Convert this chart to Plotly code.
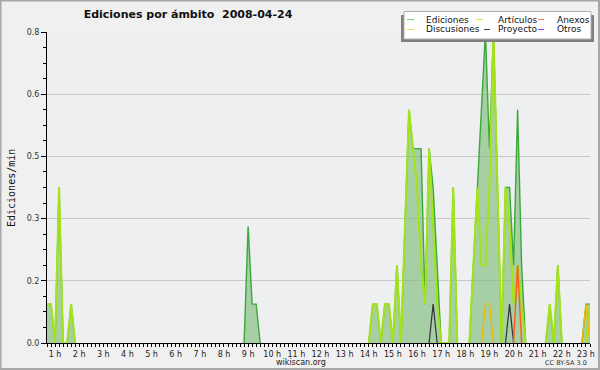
import plotly.graph_objects as go

DAY = "2008-04-24"

# ---- data (edits per minute, 10-minute bins; None separates groups) ----
ediciones_t = ["00:40", "00:50", "01:00", "01:10", "01:20", "01:30", "01:40", "01:50", None,
               "08:50", "09:00", "09:10", "09:20", "09:30", None,
               "14:00", "14:10", "14:20", "14:30", "14:40", "14:50", "15:00", "15:10", "15:20",
               "15:30", "15:40", "15:50", "16:00", "16:10", "16:20", "16:30", "16:40", "16:50",
               "17:00", "17:20", "17:30", "17:40", None,
               "18:10", "18:20", "18:30", "18:40", "18:50", "19:00", "19:10", "19:20", "19:30",
               "19:40", "19:50", "20:00", "20:10", "20:20", "20:30", None,
               "21:20", "21:30", "21:40", "21:50", "22:00", None,
               "22:50", "23:00", "23:10"]
ediciones_v = [0.1, 0.1, 0, 0.4, 0, 0, 0.1, 0, None,
               0, 0.3, 0.1, 0.1, 0, None,
               0, 0.1, 0.1, 0, 0.1, 0.1, 0, 0.2, 0,
               0.3, 0.6, 0.5, 0.5, 0.5, 0.1, 0.5, 0.4, 0.2,
               0, 0, 0.4, 0, None,
               0, 0.2, 0.4, 0.6, 0.8, 0.5, 0.8, 0.4, 0,
               0.4, 0.4, 0.2, 0.6, 0.2, 0, None,
               0, 0.1, 0, 0.2, 0, None,
               0, 0.1, 0.1]

articulos_t = ["00:40", "00:50", "01:00", "01:10", "01:20", "01:30", "01:40", "01:50", None,
               "14:00", "14:10", "14:20", "14:30", "14:40", "14:50", "15:00", "15:10", "15:20",
               "15:30", "15:40", "15:50", "16:00", "16:10", "16:20", "16:30", "16:40", "16:50",
               "17:00", "17:20", "17:30", "17:40", None,
               "18:10", "18:20", "18:30", "18:40", "18:50", "19:00", "19:10", "19:20", "19:30",
               "19:40", "19:50", "20:00", "20:10", "20:20", "20:30", None,
               "21:20", "21:30", "21:40", "21:50", "22:00", None,
               "23:00", "23:10"]
articulos_v = [0.1, 0.1, 0, 0.4, 0, 0, 0.1, 0, None,
               0, 0.1, 0.1, 0, 0.1, 0.1, 0, 0.2, 0,
               0.3, 0.6, 0.5, 0.4, 0.2, 0.1, 0.5, 0.3, 0.1,
               0, 0, 0.4, 0, None,
               0, 0.2, 0.4, 0.2, 0.2, 0.4, 0.8, 0.4, 0,
               0.4, 0.3, 0.1, 0.2, 0.1, 0, None,
               0, 0.1, 0, 0.2, 0, None,
               0, 0.1]

discusiones_t = ["18:40", "18:50", "19:00", "19:10", None, "22:50", "23:00", "23:10"]
discusiones_v = [0, 0.1, 0.1, 0, None, 0, 0.1, 0]

proyecto_t = ["16:30", "16:40", "16:50", None, "19:40", "19:50", "20:00"]
proyecto_v = [0, 0.1, 0, None, 0, 0.1, 0]

anexos_t = ["20:00", "20:10", "20:20"]
anexos_v = [0, 0.2, 0]

otros_t = []
otros_v = []


def ts(times):
    return [None if t is None else f"{DAY} {t}" for t in times]


# ---- geometry helpers (pixel -> paper) ----
W, H = 600, 370
L, R, T, B = 47, 10, 32, 27
PW, PH = W - L - R, H - T - B


def px(x):
    return (x - L) / PW


def py(y):
    return (H - B - y) / PH


fig = go.Figure()

fig.add_trace(go.Scatter(x=ts(ediciones_t), y=ediciones_v, mode="lines", name="Ediciones",
                         line=dict(color="#3aa83a", width=1.4), fill="tozeroy",
                         fillcolor="rgba(120,185,115,0.6)", connectgaps=False))
fig.add_trace(go.Scatter(x=ts(articulos_t), y=articulos_v, mode="lines", name="Artículos",
                         line=dict(color="#a6e21a", width=2), connectgaps=False))
fig.add_trace(go.Scatter(x=ts(discusiones_t), y=discusiones_v, mode="lines", name="Discusiones",
                         line=dict(color="#f5b800", width=1.4), connectgaps=False))
fig.add_trace(go.Scatter(x=ts(proyecto_t), y=proyecto_v, mode="lines", name="Proyecto",
                         line=dict(color="#333333", width=1.2), connectgaps=False))
fig.add_trace(go.Scatter(x=ts(anexos_t), y=anexos_v, mode="lines", name="Anexos",
                         line=dict(color="#ff5a1a", width=1.4), connectgaps=False))
fig.add_trace(go.Scatter(x=ts(otros_t), y=otros_v, mode="lines", name="Otros",
                         line=dict(color="#9944ee", width=1.4)))

fig.update_layout(
    width=W, height=H,
    margin=dict(l=L, r=R, t=T, b=B, autoexpand=False),
    paper_bgcolor="#f0f0f0", plot_bgcolor="#eeeff1",
    showlegend=False,
    font=dict(family="DejaVu Sans", size=9, color="#222"),
    title=dict(text="Ediciones por ámbito \u00a02008-04-24", x=188 / W, xref="container",
               xanchor="center", y=1 - 14 / H, yref="container", yanchor="middle",
               font=dict(family="DejaVu Sans", size=11, color="#111", weight="bold")),
)

fig.update_xaxes(
    type="date", range=[f"{DAY} 00:40", f"{DAY} 23:10"], automargin=False,
    dtick=3600000, tick0=f"{DAY} 00:00", tickformat="%-H h",
    ticks="outside", ticklen=3, tickcolor="#000", tickwidth=1,
    showline=True, linecolor="#000", linewidth=1, showgrid=False, zeroline=False,
    tickfont=dict(size=8, color="#222"),
    minor=dict(dtick=600000, tick0=f"{DAY} 00:00", ticks="outside", ticklen=3,
               tickcolor="#000", showgrid=False),
)
fig.update_yaxes(
    range=[0, 0.8], tick0=0, dtick=0.16, tickformat=".1f", automargin=False,
    ticks="outside", ticklen=5, tickcolor="#000",
    showline=True, linecolor="#000", linewidth=1,
    showgrid=True, gridcolor="#c8c8c8", gridwidth=1, zeroline=False,
    tickfont=dict(size=8, color="#333"),
    minor=dict(dtick=0.04, tick0=0, ticks="outside", ticklen=3, tickcolor="#000", showgrid=False),
)

shapes = []
annotations = []

# outer border
shapes.append(dict(type="rect", xref="paper", yref="paper", x0=px(0.5), x1=px(599), y0=py(369),
                   y1=py(0.5), line=dict(color="#a8a8a8", width=2), fillcolor="rgba(0,0,0,0)",
                   layer="above"))

# legend box with shadow
shapes.append(dict(type="rect", xref="paper", yref="paper", x0=px(401), x1=px(594), y0=py(42),
                   y1=py(15), line=dict(width=0), fillcolor="#808080", layer="above"))
shapes.append(dict(type="rect", xref="paper", yref="paper", x0=px(404), x1=px(591), y0=py(39),
                   y1=py(11.5), line=dict(color="#b0b0b0", width=1), fillcolor="#ffffff",
                   layer="above"))

legend_layout = [
    # (name, color, line x0, line x1, text x, row y)
    ("Ediciones", "#7acc7a", 407, 414, 424, 19.5),
    ("Artículos", "#c8ec3c", 476, 483, 496, 19.5),
    ("Anexos", "#ff7a4a", 538, 544, 555, 19.5),
    ("Discusiones", "#ffd84a", 407, 414, 424, 29.5),
    ("Proyecto", "#444444", 484, 490, 496, 29.5),
    ("Otros", "#9a4af0", 538, 544, 555, 29.5),
]
for name, col, lx0, lx1, tx, ry in legend_layout:
    shapes.append(dict(type="line", xref="paper", yref="paper", x0=px(lx0), x1=px(lx1),
                       y0=py(ry), y1=py(ry), line=dict(color=col, width=1), layer="above"))
    annotations.append(dict(text=name, xref="paper", yref="paper", x=px(tx), y=py(ry),
                            xanchor="left", yanchor="middle", showarrow=False,
                            font=dict(family="DejaVu Sans", size=9, color="#111")))

annotations.append(dict(text="Ediciones/min", xref="paper", yref="paper", x=px(11), y=py(188),
                        textangle=-90, xanchor="center", yanchor="middle", showarrow=False,
                        font=dict(family="DejaVu Sans Mono", size=10, color="#111")))
annotations.append(dict(text="wikiscan.org", xref="paper", yref="paper", x=px(301), y=py(362.5),
                        xanchor="center", yanchor="middle", showarrow=False,
                        font=dict(family="DejaVu Sans", size=8, color="#222")))
annotations.append(dict(text="CC BY-SA 3.0", xref="paper", yref="paper", x=px(589), y=py(363),
                        xanchor="right", yanchor="middle", showarrow=False,
                        font=dict(family="DejaVu Sans", size=6.5, color="#333")))

fig.update_layout(shapes=shapes, annotations=annotations)

fig.write_html("out.html", config={"displayModeBar": False},
               post_script="document.body.style.margin='0';document.body.style.padding='0';")
